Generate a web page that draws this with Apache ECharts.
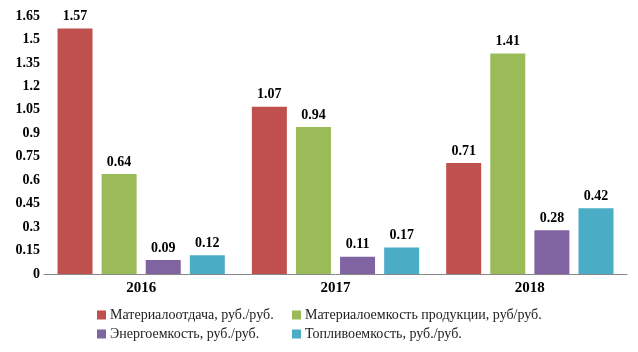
<!DOCTYPE html>
<html>
<head>
<meta charset="utf-8">
<script src="https://cdn.jsdelivr.net/npm/echarts@6/dist/echarts.min.js"></script>
<style>
  html, body {margin: 0; padding: 0; background: #fff;}
  #chart {width: 638px; height: 352px;}
</style>
</head>
<body>
<div id="chart"></div>
<script>
const years = ['2016', '2017', '2018']
const seriesNames = [
  'Материалоотдача, руб./руб.',
  'Материалоемкость продукции, руб/руб.',
  'Энергоемкость, руб./руб.',
  'Топливоемкость, руб./руб.'
]
const materialOutput = [1.57, 1.07, 0.71]
const materialIntensity = [0.64, 0.94, 1.41]
const energyIntensity = [0.09, 0.11, 0.28]
const fuelIntensity = [0.12, 0.17, 0.42]
const colors = ['#C0504D', '#9BBB59', '#8064A2', '#4BACC6']

const font = '"Liberation Serif", "DejaVu Serif", serif'
const values = [materialOutput, materialIntensity, energyIntensity, fuelIntensity]

// legend laid out as a 2x2 block under the plot
const legendPos = [
  {left: 92, top: 303},
  {left: 287, top: 303},
  {left: 92, top: 322},
  {left: 287, top: 322}
]

const myChart = echarts.init(document.getElementById('chart'))
myChart.setOption({
  animation: false,
  color: colors,
  grid: {left: 44, right: 11, top: 16, bottom: 78, containLabel: false},
  legend: seriesNames.map((name, i) => ({
    data: [name],
    left: legendPos[i].left,
    top: legendPos[i].top,
    icon: 'rect',
    itemWidth: 9,
    itemHeight: 9,
    itemGap: 5,
    textStyle: {fontFamily: font, fontSize: 14, color: '#222', padding: [0, 0, 0, -1]}
  })),
  xAxis: {
    type: 'category',
    data: years,
    axisLine: {lineStyle: {color: '#888', width: 1}},
    axisTick: {show: false},
    axisLabel: {fontFamily: font, fontSize: 15, fontWeight: 'bold', color: '#000', margin: 7}
  },
  yAxis: {
    type: 'value',
    min: 0,
    max: 1.65,
    interval: 0.15,
    splitLine: {show: false},
    axisLine: {show: false},
    axisTick: {show: false},
    axisLabel: {
      fontFamily: font, fontSize: 14, fontWeight: 'bold', color: '#000', margin: 4,
      formatter: v => String(+v.toFixed(2))
    }
  },
  series: values.map((d, i) => ({
    name: seriesNames[i],
    type: 'bar',
    data: d,
    barWidth: 35,
    barGap: '26%',
    label: {
      show: true,
      position: 'top',
      distance: 5,
      fontFamily: font,
      fontSize: 14,
      fontWeight: 'bold',
      color: '#000',
      formatter: p => p.value.toFixed(2)
    }
  }))
})
</script>
</body>
</html>
